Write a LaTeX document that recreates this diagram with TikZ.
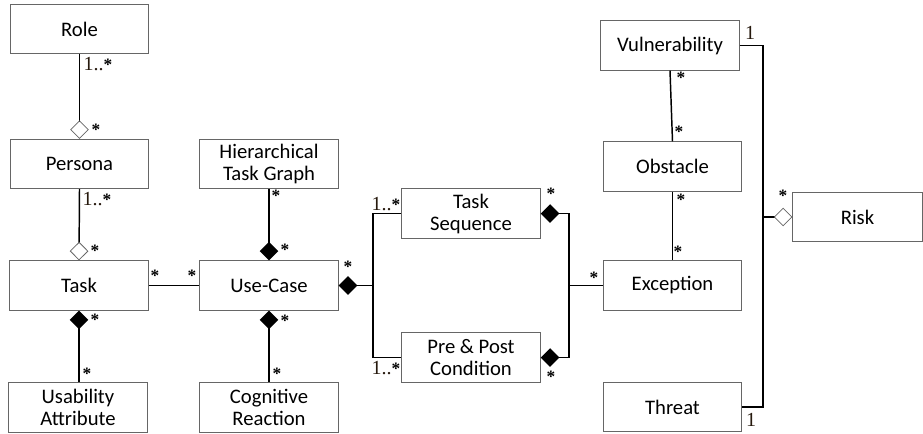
\documentclass[tikz,border=0pt]{standalone}
\usepackage{fontspec}
\setmainfont{Carlito}
\newfontfamily\multfont{Liberation Serif}
\usetikzlibrary{arrows.meta}
\newcommand{\many}{{\fontsize{13}{13}\selectfont\bfseries\color{black}*}}
\newcommand{\onemany}{1..\many}
\begin{document}
\begin{tikzpicture}[x=0.75pt, y=-0.75pt,
		box/.style={draw=black!60, line width=0.6pt, minimum width=104pt, minimum height=37pt, align=center, font=\fontsize{15.5}{16.5}\selectfont},
		mult/.style={inner sep=0pt, font=\multfont\fontsize{15}{15}\selectfont, text=black!80!brown},
		link/.style={line width=1.1pt},
		comp/.style={{Diamond[length=14pt, width=14pt]}-},
		aggr/.style={{Diamond[open, length=14pt, width=14pt, line width=0.6pt, color=black!60]}-}]
			\useasboundingbox (0,0) rectangle (923,433);
			% classes
			\node[box] (role) at (79.5,29) {Role};
			\node[box] (persona) at (79.5,164) {Persona};
			\node[box] (task) at (79,285.5) {Task};
			\node[box] (usab) at (78,407.5) {Usability\\Attribute};
			\node[box] (htg) at (269,164) {Hierarchical\\Task Graph};
			\node[box] (usecase) at (269,285.5) {Use-Case};
			\node[box] (cogn) at (269,407.5) {Cognitive\\Reaction};
			\node[box] (taskseq) at (471,213.5) {Task\\Sequence};
			\node[box] (prepost) at (471,357.5) {Pre \& Post\\Condition};
			\node[box] (vuln) at (670,45.5) {Vulnerability};
			\node[box] (obstacle) at (672.5,166.5) {Obstacle};
			\node[box] (exception) at (672.5,285.5) {Exception};
			\node[box] (threat) at (672.5,407) {Threat};
			\node[box, minimum width=97pt] (risk) at (857.5,217) {Risk};
			% junctions
			\coordinate (jl) at (373,285.5);
			\coordinate (jr) at (569,285.5);
			\coordinate (jk) at (763,217);
			% associations
			\draw[link, aggr] (persona.north) -- (role.south);
			\draw[link, aggr] (task.north) -- (persona.south);
			\draw[link, comp] (task.south) -- (usab.north -| task.south);
			\draw[link] (task.east) -- (usecase.west);
			\draw[link, comp] (usecase.north) -- (htg.south);
			\draw[link, comp] (usecase.south) -- (cogn.north);
			\draw[link, comp] (usecase.east) -- (jl);
			\draw[link] (jl) |- (taskseq.west);
			\draw[link] (jl) |- (prepost.west);
			\draw[link, comp] (taskseq.east) -| (jr);
			\draw[link, comp] (prepost.east) -| (jr);
			\draw[link] (jr) -- (exception.west);
			\draw[link] (vuln.south) -- (obstacle.north);
			\draw[link] (obstacle.south) -- (exception.north);
			\draw[link] (vuln.east) -| (jk) |- (threat.east);
			\draw[link, aggr] (risk.west) -- (jk);
			% multiplicities
			\foreach \n/\x/\y/\t in {m1/98/64/\onemany, m2/96/130/\many, m3/97/199/\onemany, m4/95/251/\many,
					m5/95/320/\many, m6/87/374/\many, m7/155/276/\many, m8/192/276/\many,
					m9/276/196/\many, m10/285/250/\many, m11/285/321/\many, m12/277/374/\many,
					m13/348/267/\many, m14/386/204/\onemany, m15/386/368/\onemany,
					m16/551/194/\many, m17/551/377/\many, m18/594/278/\many,
					m19/681/78/\many, m20/679/132/\many, m21/681/200/\many, m22/678/252/\many,
					m23/750/33/1, m24/751/420/1, m25/783/196/\many} {
				\node[mult] (\n) at (\x,\y) {\t};
			}
		\end{tikzpicture}
\end{document}
